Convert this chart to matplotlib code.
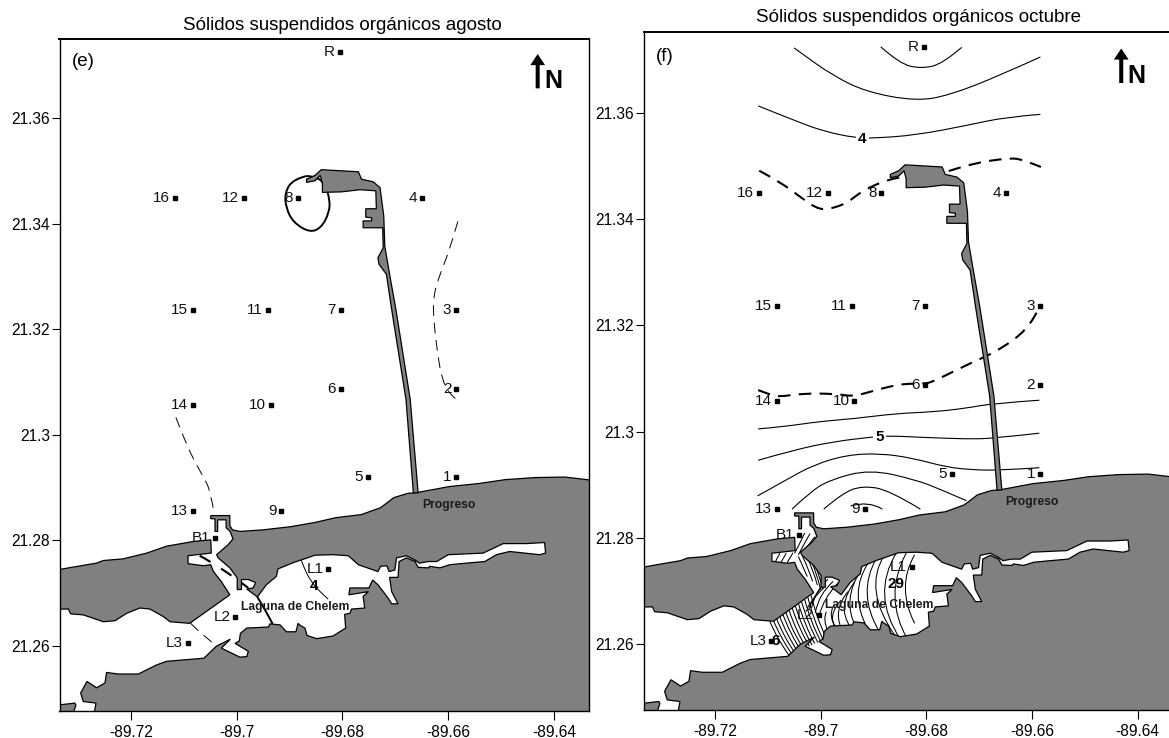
import numpy as np
import matplotlib
matplotlib.use('Agg')
import matplotlib.pyplot as plt
from matplotlib.path import Path
from matplotlib.patches import PathPatch

#===================
# Datos: estaciones
#===================
station_names = ['R', '16', '12', '8', '4', '15', '11', '7', '3', '14', '10', '6', '2',
                 '5', '1', '13', '9', 'L1', 'L2', 'L3']
station_lon = [-89.6805, -89.7117, -89.6986, -89.6885, -89.6649, -89.7083, -89.6941, -89.6803, -89.6585,
               -89.7083, -89.6936, -89.6803, -89.6585, -89.6752, -89.6585, -89.7083, -89.6916,
               -89.6827, -89.7003, -89.7093]
station_lat = [21.3724, 21.3449, 21.3449, 21.3449, 21.3449, 21.3237, 21.3237, 21.3237, 21.3237,
               21.3057, 21.3057, 21.3087, 21.3087, 21.2920, 21.2920, 21.2855, 21.2855,
               21.2746, 21.2655, 21.2606]
bocana_name = 'B1'
bocana_lon = -89.7041
bocana_lat = 21.2805

x_ticks = [-89.72, -89.70, -89.68, -89.66, -89.64]
x_labels = ['-89.72', '-89.7', '-89.68', '-89.66', '-89.64']
y_ticks = [21.36, 21.34, 21.32, 21.30, 21.28, 21.26]
y_labels = ['21.36', '21.34', '21.32', '21.3', '21.28', '21.26']

#=================
# Datos: linea de costa
#=================
land_east = [(-89.6320, 21.2913), (-89.6380, 21.2920), (-89.6436, 21.2919), (-89.6493, 21.2915), (-89.6540, 21.2908),
             (-89.6598, 21.2902), (-89.6657, 21.2891), (-89.6677, 21.2889), (-89.6703, 21.2881), (-89.6728, 21.2862),
             (-89.6764, 21.2849), (-89.6813, 21.2843), (-89.6852, 21.2834), (-89.6898, 21.2826), (-89.6950, 21.2820),
             (-89.6994, 21.2817), (-89.7008, 21.2820), (-89.7013, 21.2828), (-89.7013, 21.2847), (-89.7049, 21.2847),
             (-89.7049, 21.2841), (-89.7041, 21.2841), (-89.7041, 21.2817), (-89.7036, 21.2817), (-89.7036, 21.2839),
             (-89.7020, 21.2839), (-89.7020, 21.2824), (-89.7013, 21.2818), (-89.7007, 21.2803), (-89.7016, 21.2792),
             (-89.7038, 21.2773), (-89.7035, 21.2767), (-89.7013, 21.2748), (-89.6999, 21.2729), (-89.6999, 21.2707),
             (-89.6991, 21.2707), (-89.6991, 21.2726), (-89.6978, 21.2726), (-89.6964, 21.2720), (-89.6969, 21.2710),
             (-89.6981, 21.2708), (-89.6961, 21.2693), (-89.6944, 21.2716), (-89.6925, 21.2732), (-89.6922, 21.2746),
             (-89.6893, 21.2758), (-89.6881, 21.2762), (-89.6852, 21.2772), (-89.6818, 21.2773), (-89.6789, 21.2771),
             (-89.6770, 21.2754), (-89.6733, 21.2741), (-89.6728, 21.2751), (-89.6716, 21.2752), (-89.6712, 21.2741),
             (-89.6701, 21.2744), (-89.6698, 21.2767), (-89.6679, 21.2771), (-89.6663, 21.2763), (-89.6655, 21.2757),
             (-89.6638, 21.2760), (-89.6622, 21.2760), (-89.6600, 21.2773), (-89.6534, 21.2776), (-89.6496, 21.2794),
             (-89.6452, 21.2794), (-89.6418, 21.2796), (-89.6416, 21.2776), (-89.6427, 21.2773), (-89.6484, 21.2779),
             (-89.6509, 21.2773), (-89.6531, 21.2760), (-89.6566, 21.2757), (-89.6597, 21.2754), (-89.6616, 21.2748),
             (-89.6635, 21.2751), (-89.6638, 21.2748), (-89.6657, 21.2749), (-89.6663, 21.2760), (-89.6679, 21.2767),
             (-89.6693, 21.2760), (-89.6695, 21.2730), (-89.6711, 21.2730), (-89.6707, 21.2703), (-89.6695, 21.2680),
             (-89.6707, 21.2680), (-89.6714, 21.2691), (-89.6733, 21.2716), (-89.6743, 21.2725), (-89.6750, 21.2710),
             (-89.6786, 21.2710), (-89.6788, 21.2697), (-89.6751, 21.2703), (-89.6761, 21.2694), (-89.6758, 21.2672),
             (-89.6783, 21.2670), (-89.6786, 21.2662), (-89.6796, 21.2660), (-89.6794, 21.2634), (-89.6818, 21.2619),
             (-89.6849, 21.2614), (-89.6867, 21.2620), (-89.6871, 21.2634), (-89.6881, 21.2640), (-89.6884, 21.2643),
             (-89.6888, 21.2627), (-89.6906, 21.2627), (-89.6918, 21.2640), (-89.6937, 21.2642), (-89.6940, 21.2636),
             (-89.6981, 21.2634), (-89.6993, 21.2624), (-89.6995, 21.2610), (-89.7003, 21.2605), (-89.6978, 21.2590),
             (-89.6981, 21.2580), (-89.6994, 21.2579), (-89.7029, 21.2596), (-89.7012, 21.2613), (-89.7038, 21.2600),
             (-89.7062, 21.2577), (-89.7133, 21.2571), (-89.7152, 21.2564), (-89.7186, 21.2547), (-89.7224, 21.2547),
             (-89.7246, 21.2550), (-89.7249, 21.2530), (-89.7265, 21.2521), (-89.7283, 21.2533), (-89.7295, 21.2511),
             (-89.7290, 21.2495), (-89.7266, 21.2492), (-89.7270, 21.2470), (-89.6320, 21.2470)]

land_west = [(-89.7340, 21.2744), (-89.7312, 21.2749), (-89.7265, 21.2757), (-89.7252, 21.2762), (-89.7215, 21.2765),
             (-89.7170, 21.2776), (-89.7133, 21.2789), (-89.7082, 21.2798), (-89.7049, 21.2801), (-89.7048, 21.2776),
             (-89.7092, 21.2771), (-89.7092, 21.2756), (-89.7063, 21.2752), (-89.7049, 21.2754), (-89.7044, 21.2741),
             (-89.7029, 21.2722), (-89.7013, 21.2697), (-89.7089, 21.2643), (-89.7126, 21.2646), (-89.7139, 21.2656),
             (-89.7164, 21.2670), (-89.7183, 21.2672), (-89.7208, 21.2662), (-89.7230, 21.2648), (-89.7252, 21.2646),
             (-89.7290, 21.2659), (-89.7314, 21.2661), (-89.7318, 21.2670), (-89.7340, 21.2670)]

land_corner = [(-89.7340, 21.2488), (-89.7306, 21.2492), (-89.7304, 21.2488), (-89.7310, 21.2470), (-89.7340, 21.2470)]

# puerto de altura y viaducto
pier = [(-89.6868, 21.3484), (-89.6852, 21.3491), (-89.6840, 21.3502), (-89.6770, 21.3498), (-89.6764, 21.3484),
        (-89.6742, 21.3479), (-89.6729, 21.3468), (-89.6722, 21.3414), (-89.6720, 21.3357), (-89.6711, 21.3304),
        (-89.6699, 21.3237), (-89.6672, 21.3067), (-89.6657, 21.2890), (-89.6666, 21.2890), (-89.6680, 21.3067),
        (-89.6707, 21.3237), (-89.6717, 21.3304), (-89.6731, 21.3323), (-89.6733, 21.3335), (-89.6723, 21.3354),
        (-89.6724, 21.3392), (-89.6761, 21.3392), (-89.6761, 21.3405), (-89.6745, 21.3405), (-89.6745, 21.3411),
        (-89.6756, 21.3412), (-89.6756, 21.3428), (-89.6736, 21.3428), (-89.6737, 21.3462), (-89.6767, 21.3464),
        (-89.6802, 21.3460), (-89.6838, 21.3459), (-89.6838, 21.3476), (-89.6842, 21.3491), (-89.6852, 21.3481),
        (-89.6868, 21.3478)]

#========================
# Datos: isolineas agosto
#========================
aug_thin = [[(-89.6879, 21.2765), (-89.6871, 21.2744), (-89.6862, 21.2727), (-89.6846, 21.2705), (-89.6827, 21.2689)]]
aug_dashed = [[(-89.6582, 21.3404), (-89.6597, 21.3351), (-89.6616, 21.3304), (-89.6629, 21.3260), (-89.6627, 21.3209),
               (-89.6620, 21.3152), (-89.6612, 21.3105), (-89.6597, 21.3076), (-89.6582, 21.3065)],
              [(-89.7115, 21.3033), (-89.7092, 21.2972), (-89.7060, 21.2915), (-89.7051, 21.2896), (-89.7043, 21.2855)],
              [(-89.7087, 21.2643), (-89.7073, 21.2629), (-89.7058, 21.2617), (-89.7041, 21.2602)]]
aug_thick_dashed = [[(-89.7070, 21.2771), (-89.7032, 21.2751), (-89.6978, 21.2710)]]
aug_thick = [[(-89.6961, 21.2693), (-89.6944, 21.2665), (-89.6932, 21.2642)],
             [(-89.6868, 21.3490), (-89.6893, 21.3484), (-89.6909, 21.3459), (-89.6907, 21.3430), (-89.6893, 21.3402),
              (-89.6862, 21.3383), (-89.6840, 21.3392), (-89.6825, 21.3421), (-89.6824, 21.3446), (-89.6833, 21.3474),
              (-89.6849, 21.3489), (-89.6868, 21.3490)]]

#=========================
# Datos: isolineas octubre
#=========================
oct_thin = [[(-89.6886, 21.3724), (-89.6850, 21.3692), (-89.6809, 21.3683), (-89.6769, 21.3692), (-89.6733, 21.3723)],
            [(-89.7050, 21.3722), (-89.7039, 21.3714), (-89.6977, 21.3670), (-89.6913, 21.3639), (-89.6819, 21.3622),
             (-89.6756, 21.3633), (-89.6661, 21.3670), (-89.6584, 21.3705)],
            [(-89.7118, 21.3613), (-89.7039, 21.3581), (-89.6989, 21.3564), (-89.6935, 21.3553), (-89.6901, 21.3552),
             (-89.6819, 21.3558), (-89.6724, 21.3576), (-89.6649, 21.3592), (-89.6584, 21.3597)],
            [(-89.7118, 21.3005), (-89.7071, 21.3009), (-89.7002, 21.3019), (-89.6939, 21.3024), (-89.6857, 21.3034),
             (-89.6787, 21.3037), (-89.6724, 21.3044), (-89.6674, 21.3053), (-89.6586, 21.3059)],
            [(-89.7118, 21.2946), (-89.7052, 21.2965), (-89.6976, 21.2981), (-89.6901, 21.2990), (-89.6869, 21.2992),
             (-89.6806, 21.2989), (-89.6724, 21.2986), (-89.6674, 21.2987), (-89.6586, 21.2997)],
            [(-89.7119, 21.2879), (-89.7065, 21.2909), (-89.7014, 21.2937), (-89.6951, 21.2956), (-89.6888, 21.2959),
             (-89.6825, 21.2950), (-89.6762, 21.2933), (-89.6712, 21.2928), (-89.6661, 21.2927), (-89.6586, 21.2932)],
            [(-89.7054, 21.2854), (-89.7020, 21.2886), (-89.6983, 21.2909), (-89.6907, 21.2929), (-89.6819, 21.2909),
             (-89.6775, 21.2892), (-89.6724, 21.2870)],
            [(-89.6994, 21.2854), (-89.6959, 21.2884), (-89.6921, 21.2898), (-89.6870, 21.2890), (-89.6811, 21.2854)],
            [(-89.6943, 21.2860), (-89.6909, 21.2870), (-89.6883, 21.2854)]]
oct_thick_dashed = [[(-89.7116, 21.3491), (-89.7077, 21.3470), (-89.7039, 21.3442), (-89.7008, 21.3420), (-89.6986, 21.3418),
                     (-89.6951, 21.3429), (-89.6920, 21.3454), (-89.6869, 21.3476), (-89.6820, 21.3482), (-89.6769, 21.3486),
                     (-89.6712, 21.3505), (-89.6642, 21.3515), (-89.6618, 21.3512), (-89.6583, 21.3498)],
                    [(-89.7118, 21.3078), (-89.7099, 21.3071), (-89.7080, 21.3065), (-89.7033, 21.3072), (-89.6970, 21.3071),
                     (-89.6939, 21.3066), (-89.6913, 21.3073), (-89.6850, 21.3090), (-89.6803, 21.3090), (-89.6787, 21.3094),
                     (-89.6712, 21.3131), (-89.6674, 21.3147), (-89.6620, 21.3182), (-89.6592, 21.3219), (-89.6584, 21.3238)]]

# isolineas muy juntas dentro de la laguna
oct_lagoon = [[(-89.6822, 21.2768), (-89.6857, 21.2708), (-89.6822, 21.2639)],
              [(-89.6838, 21.2771), (-89.6882, 21.2690), (-89.6835, 21.2608)],
              [(-89.6857, 21.2771), (-89.6904, 21.2693), (-89.6850, 21.2611)],
              [(-89.6879, 21.2768), (-89.6921, 21.2702), (-89.6857, 21.2613)],
              [(-89.6894, 21.2762), (-89.6932, 21.2696), (-89.6889, 21.2624)],
              [(-89.6909, 21.2754), (-89.6948, 21.2696), (-89.6910, 21.2627)],
              [(-89.6923, 21.2740), (-89.6961, 21.2683), (-89.6932, 21.2630)],
              [(-89.6935, 21.2718), (-89.6970, 21.2671), (-89.6944, 21.2633)],
              [(-89.6948, 21.2699), (-89.6976, 21.2665), (-89.6961, 21.2630)],
              [(-89.6961, 21.2683), (-89.6986, 21.2655), (-89.6973, 21.2633)],
              [(-89.7096, 21.2643), (-89.7081, 21.2608), (-89.7059, 21.2578)],
              [(-89.7090, 21.2646), (-89.7075, 21.2611), (-89.7054, 21.2581)],
              [(-89.7084, 21.2650), (-89.7070, 21.2614), (-89.7048, 21.2583)],
              [(-89.7078, 21.2654), (-89.7064, 21.2617), (-89.7043, 21.2586)],
              [(-89.7072, 21.2658), (-89.7058, 21.2620), (-89.7037, 21.2588)],
              [(-89.7066, 21.2661), (-89.7053, 21.2623), (-89.7032, 21.2591)],
              [(-89.7060, 21.2665), (-89.7047, 21.2626), (-89.7027, 21.2593)],
              [(-89.7054, 21.2669), (-89.7041, 21.2629), (-89.7021, 21.2596)],
              [(-89.7048, 21.2673), (-89.7036, 21.2633), (-89.7016, 21.2598)],
              [(-89.7042, 21.2677), (-89.7030, 21.2636), (-89.7011, 21.2601)],
              [(-89.7036, 21.2680), (-89.7024, 21.2639), (-89.7005, 21.2603)],
              [(-89.7030, 21.2684), (-89.7019, 21.2642), (-89.7000, 21.2606)],
              [(-89.7024, 21.2688), (-89.7013, 21.2645), (-89.6995, 21.2608)],
              [(-89.7018, 21.2692), (-89.7007, 21.2648), (-89.6989, 21.2611)],
              [(-89.6967, 21.2715), (-89.6995, 21.2686), (-89.7003, 21.2652)],
              [(-89.6976, 21.2718), (-89.7003, 21.2695), (-89.7010, 21.2659)],
              [(-89.6986, 21.2722), (-89.7011, 21.2699), (-89.7017, 21.2668)],
              [(-89.6991, 21.2715), (-89.7014, 21.2691), (-89.7022, 21.2666)],
              [(-89.6995, 21.2705), (-89.7017, 21.2683), (-89.7025, 21.2668)],
              [(-89.6976, 21.2671), (-89.6986, 21.2652), (-89.6970, 21.2630)],
              [(-89.6989, 21.2661), (-89.6996, 21.2646), (-89.6986, 21.2624)],
              [(-89.7042, 21.2765), (-89.7033, 21.2745), (-89.7025, 21.2727)],
              [(-89.7034, 21.2765), (-89.7024, 21.2745), (-89.7015, 21.2718)],
              [(-89.7025, 21.2762), (-89.7015, 21.2743), (-89.7006, 21.2711)],
              [(-89.7017, 21.2755), (-89.7008, 21.2737), (-89.7000, 21.2703)],
              [(-89.7009, 21.2745), (-89.7003, 21.2730), (-89.6995, 21.2703)],
              [(-89.7030, 21.2809), (-89.7039, 21.2790), (-89.7049, 21.2771)],
              [(-89.7020, 21.2808), (-89.7032, 21.2787), (-89.7042, 21.2768)],
              [(-89.7011, 21.2802), (-89.7024, 21.2785), (-89.7036, 21.2768)],
              [(-89.7077, 21.2771), (-89.7082, 21.2762), (-89.7087, 21.2752)],
              [(-89.7065, 21.2771), (-89.7070, 21.2762), (-89.7076, 21.2752)],
              [(-89.7052, 21.2772), (-89.7058, 21.2762), (-89.7064, 21.2752)]]

# etiquetas de isolineas: texto, lon, lat
aug_labels = [('4', -89.6854, 21.2713, False)]
oct_labels = [('4', -89.6921, 21.3551, True), ('5', -89.6888, 21.2990, True),
              ('29', -89.6858, 21.2714, False), ('6', -89.7085, 21.2605, False)]

GRAY = '#808080'
plt.rcParams['font.family'] = ['Liberation Sans', 'DejaVu Sans']


def curve(points):
    # curva cuadratica suave por los puntos leidos
    pts = np.array(points)
    verts = [pts[0]]
    codes = [Path.MOVETO]
    for i in range(1, len(pts) - 1):
        end = pts[i + 1] if i == len(pts) - 2 else (pts[i] + pts[i + 1]) / 2
        verts += [pts[i], end]
        codes += [Path.CURVE3, Path.CURVE3]
    return Path(verts, codes)


def draw_lines(ax, groups, lw, dashes=None):
    for points in groups:
        ls = (0, dashes) if dashes else '-'
        ax.add_patch(PathPatch(curve(points), fc='none', ec='black', lw=lw, ls=ls, zorder=4, capstyle='butt'))


def draw_map(ax, letter, ylim):
    ax.set_xlim(-89.7335, -89.6334)
    ax.set_ylim(*ylim)
    ax.set_xticks(x_ticks, x_labels)
    ax.set_yticks(y_ticks, y_labels)
    ax.tick_params(axis='y', length=5.5, width=0.8, labelsize=11.2, pad=1.5)
    ax.tick_params(axis='x', length=6.5, width=0.8, labelsize=11.2, pad=3.5)
    for spine in ax.spines.values():
        spine.set_linewidth(1.0)
        spine.set_zorder(10)
    ax.spines['top'].set_linewidth(1.4)

    # estaciones (quedan debajo de la tierra)
    ax.plot(station_lon, station_lat, ls='none', marker='s', ms=2.4, color='black', zorder=3)
    ax.plot([bocana_lon], [bocana_lat], ls='none', marker='s', ms=2.4, color='black', zorder=3)
    for name, lon, lat in zip(station_names + [bocana_name], station_lon + [bocana_lon], station_lat + [bocana_lat]):
        ax.annotate(name, (lon, lat), xytext=(-3.5, 0), textcoords='offset points', ha='right', va='center',
                    fontsize=11, color='#111111', zorder=3)

    # tierra
    for coast in (land_east, land_west, land_corner, pier):
        ax.fill(*zip(*coast), fc=GRAY, ec='black', lw=0.9, zorder=5)

    ax.text(-89.6650, 21.2868, 'Progreso', fontsize=8.7, fontweight='bold', color='#1a1a1a', va='center', zorder=7)
    ax.text(-89.6992, 21.2674, 'Laguna de Chelem', fontsize=8.7, fontweight='bold', color='#1a1a1a', va='center', zorder=7)
    ax.text(-89.7312, 21.3706, letter, fontsize=13.5, va='center', zorder=7)

    # flecha del norte
    ax.annotate('', xy=(-89.6431, 21.3721), xytext=(-89.6431, 21.3656),
                arrowprops=dict(width=2.9, headwidth=10.6, headlength=8, shrink=0, color='black', lw=0), zorder=7)
    ax.text(-89.6419, 21.3656, 'N', fontsize=18, fontweight='bold', va='baseline', ha='left', zorder=7)


def draw_labels(ax, labels):
    for text, lon, lat, boxed in labels:
        box = dict(fc='white', ec='none', pad=1.5) if boxed else None
        ax.text(lon, lat, text, fontsize=11, fontweight='bold', ha='center', va='center', bbox=box, zorder=7)


#================
# Figura
#================
W, H = 1169, 738
fig = plt.figure(figsize=(W / 100, H / 100), dpi=100)
ax_e = fig.add_axes([59.5 / W, 1 - 711 / H, 529.5 / W, 672.3 / H])
ax_f = fig.add_axes([643.5 / W, 1 - 710 / H, 529 / W, 678 / H])

draw_map(ax_e, '(e)', (21.2477, 21.3750))
draw_map(ax_f, '(f)', (21.2476, 21.3752))

draw_lines(ax_e, aug_thin, 0.7)
draw_lines(ax_e, aug_dashed, 0.7, (11, 7))
draw_lines(ax_e, aug_thick_dashed, 1.5, (6, 6))
draw_lines(ax_e, aug_thick, 1.4)
draw_labels(ax_e, aug_labels)

draw_lines(ax_f, oct_thin, 0.8)
draw_lines(ax_f, oct_thick_dashed, 1.5, (6, 4))
draw_lines(ax_f, oct_lagoon, 0.75)
draw_labels(ax_f, oct_labels)

fig.text(342.5 / W, 1 - 30 / H, 'Sólidos suspendidos orgánicos agosto', fontsize=13.5, ha='center', va='baseline')
fig.text(919 / W, 1 - 21.7 / H, 'Sólidos suspendidos orgánicos octubre', fontsize=13.5, ha='center', va='baseline')

fig.savefig('out.png', dpi=100)
